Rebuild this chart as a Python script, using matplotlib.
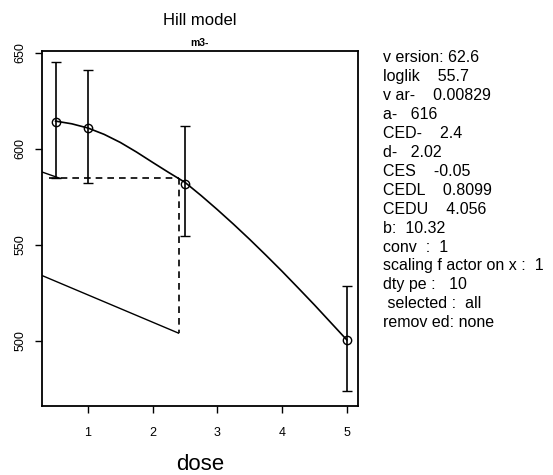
import matplotlib
import matplotlib.pyplot as plt

matplotlib.use("Agg")

plt.rcParams["font.family"] = ["Liberation Sans", "DejaVu Sans"]

# observed means and their confidence limits
dose = [0.5, 1.0, 2.5, 5.0]
mean = [613.8, 610.9, 581.9, 500.2]
upper = [645.0, 641.0, 612.0, 528.5]
lower = [585.0, 582.0, 554.8, 474.0]

# fitted Hill curve, read along the dose axis
curve_x = [0.5, 0.75, 1.0, 1.25, 1.5, 1.75, 2.0, 2.25, 2.5, 2.75,
           3.0, 3.25, 3.5, 3.75, 4.0, 4.25, 4.5, 4.75, 5.0]
curve_y = [614.4, 613.0, 610.8, 607.5, 603.3, 598.3, 592.9, 587.6, 582.5,
           575.6, 568.3, 560.7, 552.8, 544.6, 536.2, 527.5, 518.7, 509.6, 500.5]

# CED construction lines
ced = 2.4
ces_level = 584.6
ced_floor = 504.0
left_seg_x = [0.29, 0.56]
left_seg_y = [587.9, 584.7]
low_seg_x = [0.29, ced]
low_seg_y = [534.0, ced_floor]

info = [
    "v ersion: 62.6",
    "loglik    55.7",
    "v ar-    0.00829",
    "a-   616",
    "CED-    2.4",
    "d-   2.02",
    "CES    -0.05",
    "CEDL    0.8099",
    "CEDU    4.056",
    "b:  10.32",
    "conv  :  1",
    "scaling f actor on x :  1",
    "dty pe :   10",
    " selected :  all",
    "remov ed: none",
]

fig = plt.figure(figsize=(5.53, 4.75), dpi=100)
ax = fig.add_axes([0.076, 0.145, 0.571, 0.748])

ax.plot(curve_x, curve_y, color="black", linewidth=1.2)
ax.errorbar(dose, mean, yerr=[[m - lo for m, lo in zip(mean, lower)],
                              [u - m for m, u in zip(mean, upper)]],
            fmt="o", mfc="none", mec="black", mew=1.0, ms=6,
            ecolor="black", elinewidth=1.2, capsize=3.5, capthick=1.2)

ax.plot(left_seg_x, left_seg_y, color="black", linewidth=1.0)
ax.plot(low_seg_x, low_seg_y, color="black", linewidth=1.0)
ax.plot([0.4, ced], [ces_level, ces_level], color="black",
        linewidth=1.2, linestyle=(0, (4, 3)))
ax.plot([ced, ced], [ces_level, ced_floor], color="black",
        linewidth=1.2, linestyle=(0, (4, 3)))

ax.set_xlim(0.29, 5.17)
ax.set_ylim(466, 651)
ax.set_xticks([1, 2, 3, 4, 5])
ax.set_yticks([500, 550, 600, 650])
ax.tick_params(direction="out", length=5, width=1.0, labelsize=9)
for lab in ax.get_yticklabels():
    lab.set_rotation(90)
    lab.set_va("center")
for sp in ax.spines.values():
    sp.set_linewidth(1.3)
ax.tick_params(axis="x", pad=10)
ax.tick_params(axis="y", pad=6)

ax.set_xlabel("dose", fontsize=16, labelpad=11)
fig.text(0.362, 0.956, "Hill model", ha="center", va="center", fontsize=12)
ax.text(0.5, 1.008, "m3-", transform=ax.transAxes, ha="center", va="bottom",
        fontsize=7.5, fontweight="bold")

for i, line in enumerate(info):
    fig.text(0.693, 0.878 - i * 0.0398, line, ha="left", va="center", fontsize=11.5)

fig.savefig("out.png", dpi=100, facecolor="white")
